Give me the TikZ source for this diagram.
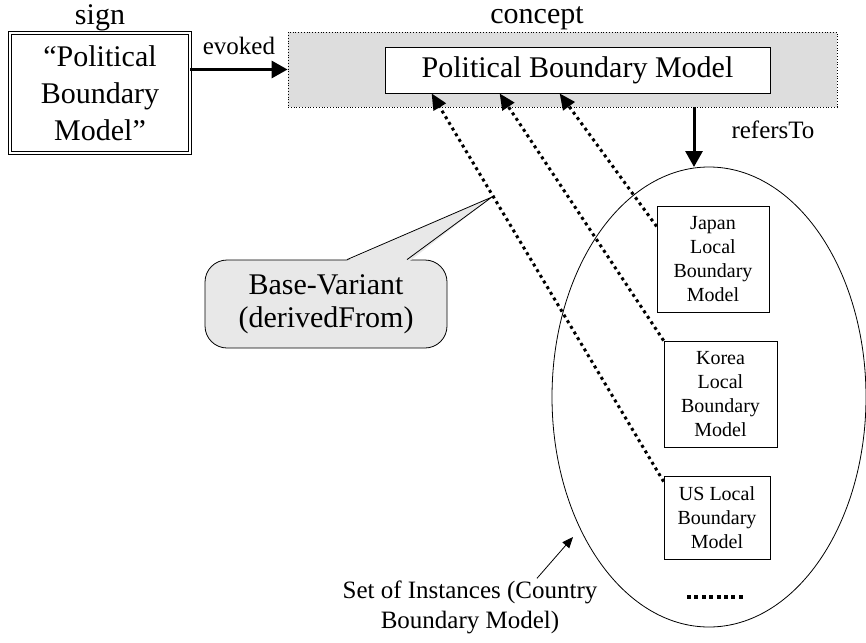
\documentclass[tikz,border=0pt]{standalone}
\usepackage{fontspec}
\setmainfont{Liberation Serif}
\usepackage{tikz}
\usetikzlibrary{arrows.meta,positioning,shapes.geometric,calc}
\usepackage{xcolor}

\definecolor{conceptgray}{RGB}{221,221,221}
\definecolor{calloutgray}{RGB}{232,232,232}

\newcommand{\bigtxt}{\fontsize{30}{37}\selectfont}
\newcommand{\midtxt}{\fontsize{25}{30}\selectfont}
\newcommand{\smalltxt}{\fontsize{20}{24}\selectfont}

\begin{document}
\begin{tikzpicture}[x=1pt,y=-1pt,
	boldarrow/.style={line width=3pt,-{Triangle[length=16pt,width=17pt]}},
	dotarrow/.style={line width=3pt,dash pattern=on 3pt off 3.6pt,-{Triangle[length=16pt,width=14pt]}},
	thinarrow/.style={line width=0.8pt,-{Triangle[length=11pt,width=9pt]}},
	localbox/.style={draw,line width=0.8pt,align=center,inner sep=0pt,minimum height=106pt,font=\smalltxt}]
	\useasboundingbox (0,0) rectangle (866,642);

	\node[draw,double,double distance=2pt,line width=0.7pt,align=center,inner sep=0pt,minimum width=180pt,minimum height=120pt,font=\bigtxt] (sign) at (100,93) {“Political\\Boundary\\Model”};
	\node[font=\bigtxt] (signlbl) at (100,18) {sign};

	\node[draw,dotted,line width=0.8pt,fill=conceptgray,minimum width=549pt,minimum height=75pt] (concept) at (562.5,69.5) {};
	\node[draw,fill=white,line width=0.8pt,inner sep=0pt,minimum width=385pt,minimum height=46pt,font=\bigtxt] (pbm) at (577.5,70) {Political Boundary Model};
	\node[font=\bigtxt] (conceptlbl) at (537,18) {concept};

	\node[ellipse,draw,line width=0.8pt,inner sep=0pt,minimum width=314pt,minimum height=460pt] (inst) at (709,397) {};
	\node[localbox,minimum width=112pt] (japan) at (713,259) {Japan\\Local\\Boundary\\Model};
	\node[localbox,minimum width=113pt] (korea) at (720.5,394) {Korea\\Local\\Boundary\\Model};
	\node[localbox,minimum width=106pt,minimum height=83pt] (us) at (717,517.5) {US Local\\Boundary\\Model};
	\coordinate (moreL) at (687,597);
	\coordinate (moreR) at (745,597);
	\draw[line width=3.5pt,dash pattern=on 4pt off 3.4pt] (moreL) -- (moreR);

	\node[draw,line width=0.8pt,fill=calloutgray,rounded corners=22pt,align=center,inner sep=0pt,minimum width=242pt,minimum height=88pt,font=\fontsize{30}{33}\selectfont] (bv) at (326,304) {Base-Variant\\(derivedFrom)};
	\coordinate (bvtip) at (492,197);
	\fill[calloutgray] ($(bv.north)+(19,2)$) -- (bvtip) -- ($(bv.north)+(83,2)$) -- cycle;
	\draw[line width=0.8pt] ($(bv.north)+(21,0)$) -- (bvtip) -- ($(bv.north)+(81,0)$);

	\node[align=center,inner sep=2pt,font=\midtxt] (setlbl) at (470,607) {Set of Instances (Country\\Boundary Model)};

	\coordinate (reftip) at (694,167);
	\coordinate (settip) at (573,537);

	\draw[boldarrow] (sign.east |- concept.west) -- node[midway,above=11pt,inner sep=2pt,font=\midtxt] {evoked} (concept.west);
	\draw[boldarrow] (concept.south -| reftip) -- node[midway,right=34pt,yshift=7pt,inner sep=2pt,font=\midtxt] {refersTo} (reftip);
	\draw[dotarrow] (japan.150) -- ($(pbm.south west)+(175,0)$);
	\draw[dotarrow] (korea.north west) -- ($(pbm.south west)+(115,0)$);
	\draw[dotarrow] ($(us.north west)+(0,6)$) -- ($(pbm.south west)+(47,0)$);
	\draw[thinarrow] ($(setlbl.north)+(67,0)$) -- (settip);
\end{tikzpicture}
\end{document}
